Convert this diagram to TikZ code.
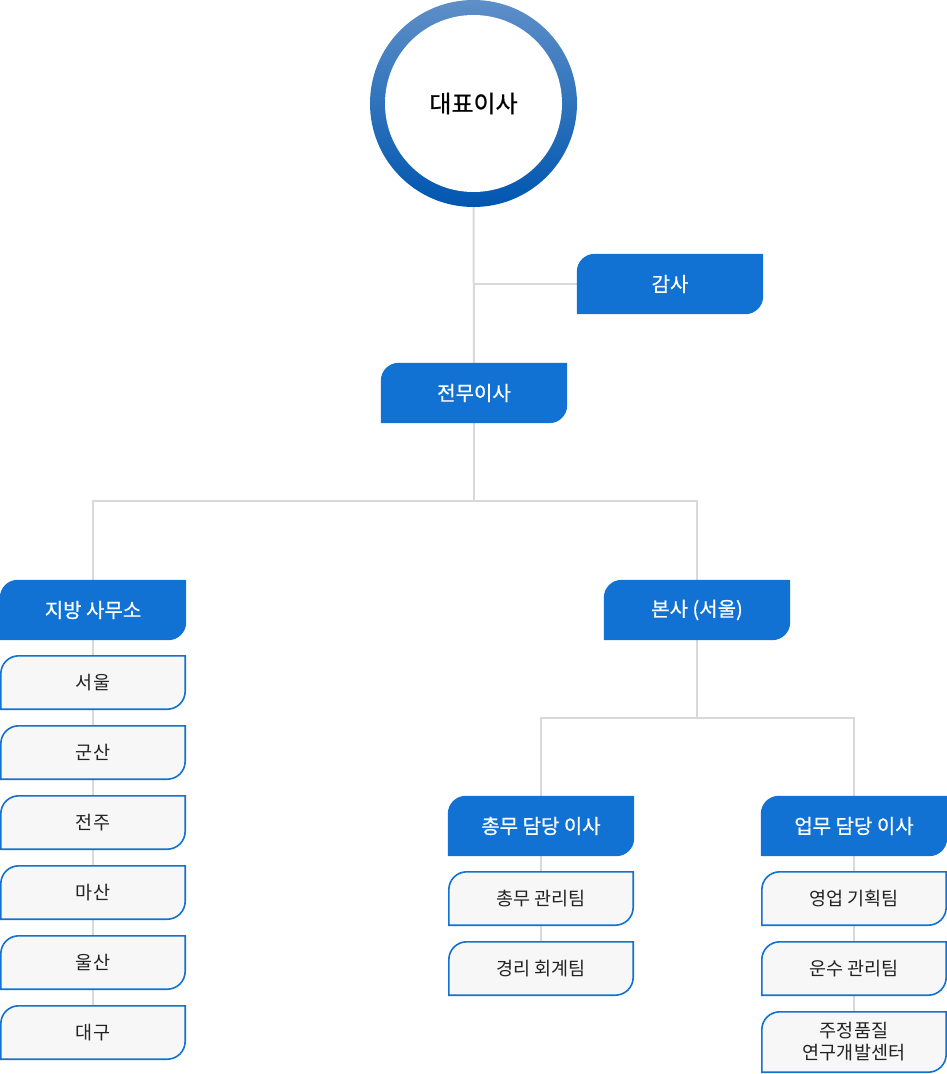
\documentclass[tikz,border=0pt]{standalone}
\usepackage{fontspec}
\setmainfont{Noto Sans CJK KR}
\newfontfamily\medfont[FakeBold=0.6]{Noto Sans CJK KR}
\usetikzlibrary{calc}
\definecolor{bluec}{HTML}{1172D3}
\definecolor{linec}{HTML}{D9D9D9}
\definecolor{leaffill}{HTML}{F7F7F7}
\definecolor{leaftext}{HTML}{222222}
\definecolor{ringtop}{HTML}{5E8FC8}
\definecolor{ringmid}{HTML}{3F8CDB}
\definecolor{ringbot}{HTML}{0056B0}
\pgfdeclarelayer{lines}
\pgfdeclarelayer{shapes}
\pgfsetlayers{lines,shapes,main}
\newcommand\cbox[2]{%
  \begin{pgfonlayer}{shapes}
  \path[#2] (#1.south west) -- ($(#1.north west)+(0,18)$)
    .. controls ($(#1.north west)+(0,8)$) and ($(#1.north west)+(8,0)$) .. ($(#1.north west)+(18,0)$)
    -- (#1.north east) -- ($(#1.south east)+(0,-18)$)
    .. controls ($(#1.south east)+(0,-8)$) and ($(#1.south east)+(-8,0)$) .. ($(#1.south east)+(-18,0)$)
    -- cycle;
  \end{pgfonlayer}}
\tikzset{
  bluebox/.style={minimum width=186pt, minimum height=60pt, inner sep=0pt, text=white, font=\medfont\fontsize{20pt}{24pt}\selectfont},
  leafbox/.style={minimum width=184pt, minimum height=53pt, inner sep=0pt, text=leaftext, font=\fontsize{18.5pt}{22pt}\selectfont, align=center},
  bluefill/.style={fill=bluec},
  leaffilled/.style={fill=leaffill, draw=bluec, line width=1.6pt},
  conn/.style={draw=linec, line width=2pt}
}
\begin{document}
\begin{tikzpicture}[x=1pt,y=-1pt]
\useasboundingbox (0,0) rectangle (947,1074);
% CEO circle
\node[circle, minimum size=207pt, inner sep=0pt, font=\medfont\fontsize{24pt}{28pt}\selectfont, text=black] (ceo) at (473.5,103.5) {대표이사};
\begin{pgfonlayer}{shapes}
\shade[top color=ringtop, middle color=ringmid, bottom color=ringbot] (ceo.center) circle[radius=103.5pt];
\fill[white] (ceo.center) circle[radius=88.5pt];
\end{pgfonlayer}
% blue boxes
\node[bluebox] (gamsa) at (670,284) {감사};
\node[bluebox] (jeonmu) at (474,393) {전무이사};
\node[bluebox] (jibang) at (93,610) {지방 사무소};
\node[bluebox] (bonsa) at (697,610) {본사 (서울)};
\node[bluebox] (chongmu) at (541,826) {총무 담당 이사};
\node[bluebox] (eopmu) at (854,826) {업무 담당 이사};
\foreach \n in {gamsa,jeonmu,jibang,bonsa,chongmu,eopmu} {\cbox{\n}{bluefill}}
% leaf boxes
\node[leafbox] (seoul) at (93,682.5) {서울};
\node[leafbox] (gunsan) at (93,752.5) {군산};
\node[leafbox] (jeonju) at (93,822.5) {전주};
\node[leafbox] (masan) at (93,892.5) {마산};
\node[leafbox] (ulsan) at (93,962.5) {울산};
\node[leafbox] (daegu) at (93,1032.5) {대구};
\node[leafbox] (chongteam) at (541,898.5) {총무 관리팀};
\node[leafbox] (gyeongri) at (541,968.5) {경리 회계팀};
\node[leafbox] (yeongeop) at (854,898.5) {영업 기획팀};
\node[leafbox] (unsu) at (854,968.5) {운수 관리팀};
\node[leafbox, minimum height=60pt, font=\fontsize{18.5pt}{22pt}\selectfont] (jujeong) at (854,1042) {주정품질\\연구개발센터};
\foreach \n in {seoul,gunsan,jeonju,masan,ulsan,daegu,chongteam,gyeongri,yeongeop,unsu,jujeong} {\cbox{\n}{leaffilled}}
% connectors
\coordinate (j1) at (474,501);
\coordinate (j2) at (697,718);
\begin{pgfonlayer}{lines}
\draw[conn] (ceo.south) -- (jeonmu.north);
\draw[conn] (gamsa.west -| ceo.south) -- (gamsa.west);
\draw[conn] (jeonmu.south) -- (j1);
\draw[conn] (jibang.north) |- (j1) -| (bonsa.north);
\draw[conn] (jibang.south) -- (daegu.north);
\draw[conn] (bonsa.south) -- (j2);
\draw[conn] (chongmu.north) |- (j2) -| (eopmu.north);
\draw[conn] (chongmu.south) -- (gyeongri.north);
\draw[conn] (eopmu.south) -- (jujeong.north);
\end{pgfonlayer}
\end{tikzpicture}
\end{document}
